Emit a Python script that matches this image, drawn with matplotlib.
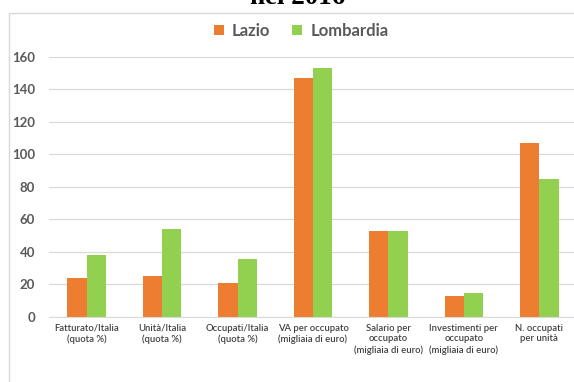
import matplotlib
matplotlib.use("Agg")
import matplotlib.pyplot as plt
from matplotlib.patches import Rectangle
import numpy as np

categories = [
    "Fatturato/Italia\n(quota %)",
    "Unità/Italia\n(quota %)",
    "Occupati/Italia\n(quota %)",
    "VA per occupato\n(migliaia di euro)",
    "Salario per\noccupato\n(migliaia di euro)",
    "Investimenti per\noccupato\n(migliaia di euro)",
    "N. occupati\nper unità",
]
lazio = [24, 25, 21, 147, 53, 13, 107]
lombardia = [38, 54, 35.5, 153, 53, 14.5, 85]
yticks = [0, 20, 40, 60, 80, 100, 120, 140, 160]

W, H = 574, 382
fig = plt.figure(figsize=(W / 100, H / 100), dpi=100)

# light frame of the original chart box (cropped on the right/bottom)
fig.patches.append(Rectangle((9 / W, -0.1), 1.1, (H - 13) / H + 0.1,
                             transform=fig.transFigure, fill=False,
                             edgecolor="#d9d9d9", linewidth=1.0))

# title, mostly cut off at the top in the reference
fig.text(298 / W, 1 - 4 / H, "nel 2016", ha="center", va="baseline",
         family="Liberation Serif", weight="bold", fontsize=19.5)

ax = fig.add_axes([49 / W, 65.3 / H, (577 - 49) / W, (316.7 - 56.7) / H])

x = np.arange(len(categories))
bw = 0.256
b1 = ax.bar(x - bw / 2, lazio, bw, color="#ED7D31", label="Lazio")
b2 = ax.bar(x + bw / 2, lombardia, bw, color="#92D050", label="Lombardia")

ax.set_xlim(-0.5, len(categories) - 0.5)
ax.set_ylim(0, 160)
ax.set_yticks(yticks)
ax.set_yticklabels([str(t) for t in yticks], family="Lato", weight="bold",
                   fontsize=9.5, color="#595959")
ax.set_xticks(x)
ax.set_xticklabels(categories, family="Lato", weight="semibold", fontsize=6.8,
                   color="#404040", linespacing=1.25)
ax.tick_params(axis="both", length=0)
ax.tick_params(axis="y", pad=10)
ax.tick_params(axis="x", pad=5)
ax.grid(axis="y", color="#d9d9d9", linewidth=0.9)
ax.set_axisbelow(True)
for s in ax.spines.values():
    s.set_visible(False)
ax.spines["bottom"].set_visible(True)
ax.spines["bottom"].set_color("#d9d9d9")

fig.legend(handles=[b1, b2], loc="center", bbox_to_anchor=(301 / W, 1 - 31 / H),
           ncol=2, frameon=False, handlelength=0.6, handleheight=0.6,
           columnspacing=1.3, handletextpad=0.5,
           prop={"family": "Lato", "weight": "bold", "size": 12},
           labelcolor="#595959")

fig.savefig("out.png", dpi=100)
